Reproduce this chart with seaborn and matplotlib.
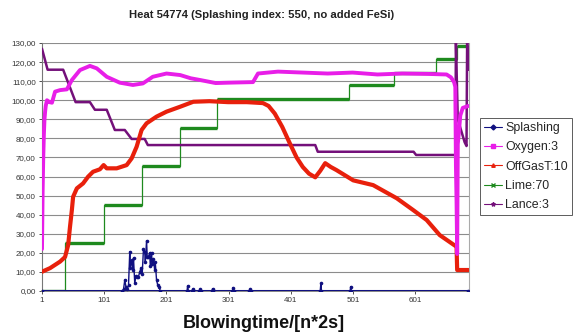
import matplotlib
matplotlib.use("Agg")
import matplotlib.pyplot as plt
import seaborn as sns
from matplotlib.ticker import FuncFormatter, FixedLocator
from matplotlib.lines import Line2D

sns.set_theme(style="white")
plt.rcParams['font.family'] = ['Liberation Sans', 'DejaVu Sans']

N_POINTS = 686
x_ticks = [1, 101, 201, 301, 401, 501, 601]
y_ticks = list(range(0, 131, 10))
title = "Heat 54774 (Splashing index: 550, no added FeSi)"
xlabel = "Blowingtime/[n*2s]"
series_names = ["Splashing", "Oxygen:3", "OffGasT:10", "Lime:70", "Lance:3"]

# Splashing (sampled where it departs from zero)
splash_idx = [1, 130, 132, 134, 136, 138, 140, 142, 143, 145, 147, 148, 150, 152, 153, 156, 158,
              160, 162, 164, 166, 167, 169, 170, 172, 174, 175, 177, 178, 180, 182, 183, 185, 187,
              189, 191, 234, 235, 236, 242, 243, 244, 254, 255, 256, 274, 275, 276, 307, 308, 309,
              334, 335, 336, 448, 449, 450, 496, 497, 498, 686]
splash_val = [0, 0, 1, 5.8, 2, 1, 3, 20.6, 12, 16.2, 11, 17.3, 4, 8, 7.5, 7.5, 10,
              12, 9, 22, 20.6, 15, 26.4, 18, 18, 20, 13, 20, 14, 17, 11, 15, 5.8, 3,
              2, 0, 0, 2.7, 0, 0, 1, 0, 0, 1, 0, 0, 1.2, 0, 0, 1.8, 0,
              0, 1, 0, 0, 4.0, 0, 0, 2.3, 0, 0]

# Oxygen:3
oxygen_idx = [1, 2, 3, 4, 5, 6, 7, 9, 13, 17, 22, 30, 41, 49, 62, 78, 89, 105, 126, 147, 163,
              179, 201, 223, 240, 255, 280, 300, 340, 348, 380, 420, 460, 500, 540, 580, 620,
              651, 658, 663, 665, 666, 667, 668, 669, 671, 673, 677, 686]
oxygen_val = [22, 52, 70, 82, 90, 94, 97, 100, 99, 98.7, 104.5, 105.3, 105.7, 110.6, 115.8, 118,
              116.7, 112.3, 109.2, 108, 108.8, 112.3, 114, 113.2, 111.5, 110.6, 109, 109.2, 109.5,
              114, 115, 114.5, 114, 114.5, 113.5, 114, 113.8, 113.5, 112, 109.5, 107, 65.5,
              46.8, 19.4, 77, 84, 92, 96, 97]

# OffGasT:10
offgas_idx = [1, 14, 30, 38, 43, 46, 49, 51, 57, 67, 75, 83, 94, 100, 105, 121, 137, 145, 153,
              161, 169, 185, 201, 223, 244, 270, 300, 330, 356, 365, 375, 387, 399, 410, 420, 430,
              440, 448, 456, 465, 474, 501, 533, 571, 597, 619, 640, 667, 668, 686]
offgas_val = [10.1, 12, 15.4, 17.8, 24, 33.7, 42.5, 49.4, 53.8, 56.4, 59.9, 62.5, 63.8, 66, 64.3,
              64.3, 66, 69.5, 75.6, 84.4, 87.9, 91.4, 94, 96.6, 99.2, 99.5, 99, 99, 98.5, 97, 93,
              86, 77.5, 70, 65, 61.5, 59.6, 63, 67, 65, 63.4, 58, 55.5, 48.6, 42.5, 37.2, 29.3,
              23.2, 11, 11]

# Lime:70 (step changes)
lime_start = [1, 38, 100, 161, 223, 282, 494, 567, 634, 667]
lime_val = [0, 25.3, 45, 65.5, 85.3, 100.5, 108, 114.4, 121.4, 128.5]

# Lance:3
lance_idx = [1, 10, 35, 55, 78, 86, 105, 118, 134, 145, 166, 171, 440, 444, 598, 602, 665,
             666, 669, 680, 683, 684, 686]
lance_val = [127, 116, 116, 99, 99, 95, 95, 84.4, 84.4, 79.7, 79.7, 76.5, 76.5, 73, 73, 71.3,
             71.3, 130, 90, 78, 76, 130, 116]

c_splash = "#101080"
c_oxy = "#e81ee8"
c_off = "#e8200c"
c_lime = "#1e8a1e"
c_lance = "#74107a"

fig = plt.figure(figsize=(5.74, 3.35), dpi=100)
ax = fig.add_axes([42 / 574, 1 - 291 / 335, 427 / 574, 248 / 335])

for v in y_ticks[1:]:
    ax.axhline(v, color="#8c8c8c", lw=0.8, zorder=0)

# Lime steps
lime_x = lime_start + [N_POINTS]
lime_y = lime_val + [lime_val[-1]]
sns.lineplot(x=lime_x, y=lime_y, ax=ax, color=c_lime, lw=0.9, drawstyle="steps-post",
             estimator=None, zorder=2)
lime_end = lime_start[1:] + [N_POINTS]
ax.hlines(lime_val, lime_start, lime_end, color=c_lime, lw=2.4, zorder=2)

sns.lineplot(x=lance_idx, y=lance_val, ax=ax, color=c_lance, lw=1.8, estimator=None, zorder=3)
sns.lineplot(x=offgas_idx, y=offgas_val, ax=ax, color=c_off, lw=3.0, estimator=None, zorder=4)
sns.lineplot(x=oxygen_idx, y=oxygen_val, ax=ax, color=c_oxy, lw=2.8, estimator=None, zorder=5)
sns.lineplot(x=splash_idx, y=splash_val, ax=ax, color=c_splash, lw=1.0, estimator=None,
             marker="o", markersize=2.6, markeredgewidth=0, zorder=6)
ax.axhline(0, xmin=0, xmax=1, color=c_splash, lw=2.2, zorder=5.5)

ax.set_xlim(1, N_POINTS + 1)
ax.set_ylim(0, 130)
ax.yaxis.set_major_locator(FixedLocator(y_ticks))
ax.yaxis.set_major_formatter(FuncFormatter(lambda v, p: f"{v:.2f}".replace(".", ",")))
ax.xaxis.set_major_locator(FixedLocator(x_ticks))
ax.tick_params(axis="both", labelsize=5.8, colors="#333333", length=2.5, width=0.6, pad=2,
               direction="out", left=True, bottom=True)
ax.set_xlabel("")
ax.set_ylabel("")
ax.spines["top"].set_visible(False)
ax.spines["left"].set_color("#777777")
ax.spines["left"].set_linewidth(0.8)
ax.spines["bottom"].set_color("#777777")
ax.spines["right"].set_color("#aaaaaa")
ax.spines["right"].set_linewidth(0.8)

fig.text(262 / 574, 1 - 15 / 335, title, ha="center", va="center", weight="bold",
         fontsize=8.1, color="#222222")
fig.text(264 / 574, 1 - 323 / 335, xlabel, ha="center", va="center", weight="bold",
         fontsize=13, color="#111111")

handles = [
    Line2D([], [], color=c_splash, lw=0.8, marker="D", markersize=2.5),
    Line2D([], [], color=c_oxy, lw=0.8, marker="s", markersize=2.5),
    Line2D([], [], color=c_off, lw=0.8, marker="^", markersize=2.5),
    Line2D([], [], color=c_lime, lw=0.8, marker="x", markersize=2.5),
    Line2D([], [], color=c_lance, lw=0.8, marker="*", markersize=3),
]
leg = fig.legend(handles, series_names, loc="upper left", bbox_to_anchor=(480 / 574, 1 - 118 / 335),
                 fontsize=8.9, frameon=True, fancybox=False, handlelength=1.4, handletextpad=0.3,
                 borderpad=0.35, labelspacing=0.58, borderaxespad=0)
leg.get_frame().set_edgecolor("#333333")
leg.get_frame().set_linewidth(0.7)

fig.savefig("out.png", dpi=100)
